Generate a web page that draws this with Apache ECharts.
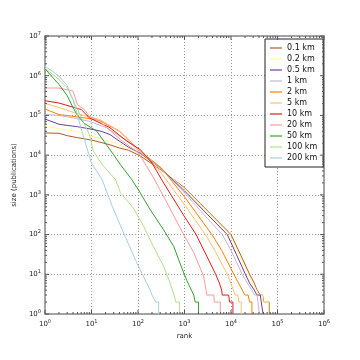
<!DOCTYPE html>
<html><head><meta charset="utf-8">
<script src="https://cdn.jsdelivr.net/npm/echarts@6/dist/echarts.min.js"></script>
<style>html,body{margin:0;padding:0;background:#fff}#c{width:360px;height:360px}</style>
</head><body><div id="c"></div>
<script>
const seriesNames = ['0.1 km','0.2 km','0.5 km','1 km','2 km','5 km','10 km','20 km','50 km','100 km','200 km'];
const seriesColors = ['#b15928','#ffff99','#6a3d9a','#cab2d6','#ff7f00','#fdbf6f','#e31a1c','#fb9a99','#33a02c','#b2df8a','#a6cee3'];

const d_0_1 = [[1,36300],[2,35500],[3,31000],[5,27500],[10,24000],[25,18200],[40,15100],[63,13200],[112,9550],[316,4200],[1000,1510],[3162,390],[10000,100],[15850,32],[25120,10],[31620,6],[36300,4],[42700,3],[47900,3],[50100,2],[66100,2],[66100,1]];
const d_0_2 = [[1,55000],[2,46000],[3,43000],[5,39000],[10,30000],[25,22400],[40,18000],[63,14800],[112,10500],[316,4400],[1000,1410],[3162,363],[9330,100],[15850,26],[22900,10],[31600,5],[39800,3],[46800,3],[49000,2],[63100,2],[63100,1]];
const d_0_5 = [[1,81000],[2,60000],[3,56000],[5,52000],[10,45000],[16,40000],[25,33000],[40,22400],[63,15800],[112,11200],[316,4570],[1000,1260],[3162,316],[8320,100],[13000,32],[20400,10],[25100,6],[31600,4],[36300,3],[42700,3],[44700,2],[49000,2],[49000,1]];
const d_1 = [[1,105000],[2,100000],[4,87000],[9,71000],[21,49000],[40,30000],[63,22000],[112,11750],[316,4570],[1000,1120],[3162,250],[6460,100],[10000,40],[17400,10],[22400,6],[28200,4],[32400,3],[36300,3],[38000,2],[40700,2],[40700,1]];
const d_2 = [[1,145000],[2,105000],[4,95000],[8,85000],[15,74000],[40,40000],[112,12600],[316,4790],[1000,890],[3890,100],[6310,40],[11500,10],[15800,5],[20000,3],[23400,3],[25100,2],[28200,2],[28200,1]];
const d_5 = [[1,200000],[2,158000],[4,120000],[8,95000],[15,79000],[40,40000],[112,12600],[316,3550],[1000,562],[2820,100],[4470,40],[8320,10],[10500,5],[12300,3],[14100,3],[14800,2],[16600,2],[16600,1]];
const d_10 = [[1,235000],[2,205000],[6,141000],[9,87000],[25,49000],[58,22400],[112,13800],[200,6300],[355,2000],[1000,282],[1780,100],[4680,10],[5620,6],[6300,4],[6460,3],[8900,3],[9330,2],[11000,2],[11000,1]];
const d_20 = [[1,490000],[2,490000],[4,410000],[5,186000],[7,141000],[9,95000],[15,71000],[42,24500],[100,11700],[200,3160],[400,708],[955,100],[1585,35],[2570,9],[2820,5],[3020,3],[4270,3],[4370,2],[5890,2],[5890,1]];
const d_50 = [[1,1500000],[2,600000],[3,316000],[4,158000],[5,100000],[7,63000],[13,40000],[21,18200],[30,10200],[42,5750],[74,2400],[112,1120],[182,427],[355,132],[589,50],[813,18],[1120,7],[1585,3],[1700,2],[2000,2],[2000,1]];
const d_100 = [[1,1550000],[2,800000],[3,500000],[4,250000],[6,90000],[9,33000],[11,12600],[17,5750],[33,2400],[42,1120],[79,468],[132,162],[214,50],[355,16],[490,6],[550,4],[600,3],[650,2],[776,2],[776,1]];
const d_200 = [[1,1740000],[2,980000],[3,560000],[4,250000],[7,25000],[10,6300],[17,2400],[28,513],[49,110],[95,19],[182,4],[200,3],[240,2],[278,2],[278,1]];
const seriesData = [d_0_1,d_0_2,d_0_5,d_1,d_2,d_5,d_10,d_20,d_50,d_100,d_200];

const xTickExponents = [0,1,2,3,4,5,6];
const yTickExponents = [0,1,2,3,4,5,6,7];

const xTicks = [], yTicks = [];
xTickExponents.forEach(e => { xTicks.push([Math.pow(10,e),1,1]); if (e<6) for (let m=2;m<=9;m++) xTicks.push([m*Math.pow(10,e),1,0]); });
yTickExponents.forEach(e => { yTicks.push([1,Math.pow(10,e),1]); if (e<7) for (let m=2;m<=9;m++) yTicks.push([1,m*Math.pow(10,e),0]); });

const font = 'DejaVu Sans';
const fmt = v => { const e = Math.round(Math.log10(v)); return '{b|10}{s|' + e + '}'; };
const rich = { b:{fontSize:7,fontFamily:font,color:'#222'}, s:{fontSize:5,fontFamily:font,color:'#222',padding:[0,0,5,0]} };

const chart = echarts.init(document.getElementById('c'), null, {renderer:'canvas'});
const series = seriesNames.map((n,i) => ({
  name:n, type:'line', data:seriesData[i], showSymbol:false, symbol:'none',
  lineStyle:{width:1, color:seriesColors[i]}, itemStyle:{color:seriesColors[i]}, animation:false, z:3
}));
series.push({
  type:'custom', data:xTicks, silent:true, animation:false, clip:false, z:4,
  renderItem:(params, api) => {
    const cs = params.coordSys; const x = api.coord([api.value(0),1])[0]; const L = api.value(2) ? 4 : 2;
    return {type:'group', children:[
      {type:'line', shape:{x1:x,y1:cs.y+cs.height,x2:x,y2:cs.y+cs.height-L}, style:{stroke:'#555',lineWidth:1}},
      {type:'line', shape:{x1:x,y1:cs.y,x2:x,y2:cs.y+L}, style:{stroke:'#555',lineWidth:1}}
    ]};
  }
});
series.push({
  type:'custom', data:yTicks, silent:true, animation:false, clip:false, z:4,
  renderItem:(params, api) => {
    const cs = params.coordSys; const y = api.coord([1,api.value(1)])[1]; const L = api.value(2) ? 4 : 2;
    return {type:'group', children:[
      {type:'line', shape:{x1:cs.x,y1:y,x2:cs.x+L,y2:y}, style:{stroke:'#555',lineWidth:1}},
      {type:'line', shape:{x1:cs.x+cs.width,y1:y,x2:cs.x+cs.width-L,y2:y}, style:{stroke:'#555',lineWidth:1}}
    ]};
  }
});

chart.setOption({
  backgroundColor:'#fff',
  animation:false,
  grid:{left:45,right:36,top:36,bottom:46,show:true,borderColor:'#888',borderWidth:1.5,backgroundColor:'transparent'},
  xAxis:{type:'log',logBase:10,min:1,max:1000000,
    name:'rank',nameLocation:'middle',nameGap:16,nameTextStyle:{fontSize:7,fontFamily:font,color:'#222'},
    axisLine:{show:false},axisTick:{show:false},
    axisLabel:{formatter:fmt,rich:rich,margin:5},
    splitLine:{show:true,lineStyle:{color:'#999',type:[1,2],width:1}}},
  yAxis:{type:'log',logBase:10,min:1,max:10000000,
    name:'size (publications)',nameLocation:'middle',nameGap:22,nameTextStyle:{fontSize:7,fontFamily:font,color:'#222'},
    axisLine:{show:false},axisTick:{show:false},
    axisLabel:{formatter:fmt,rich:rich,margin:4},
    splitLine:{show:true,lineStyle:{color:'#999',type:[1,2],width:1}}},
  legend:{data:seriesNames,orient:'vertical',left:265,top:39,icon:'rect',itemWidth:12,itemHeight:2,itemGap:1,
    itemStyle:{opacity:0.6},
    padding:[4,6,4,5],borderColor:'#222',borderWidth:1,backgroundColor:'#fff',
    textStyle:{fontSize:8,fontFamily:font,color:'#111',lineHeight:10}},
  series:series
});
</script></body></html>
